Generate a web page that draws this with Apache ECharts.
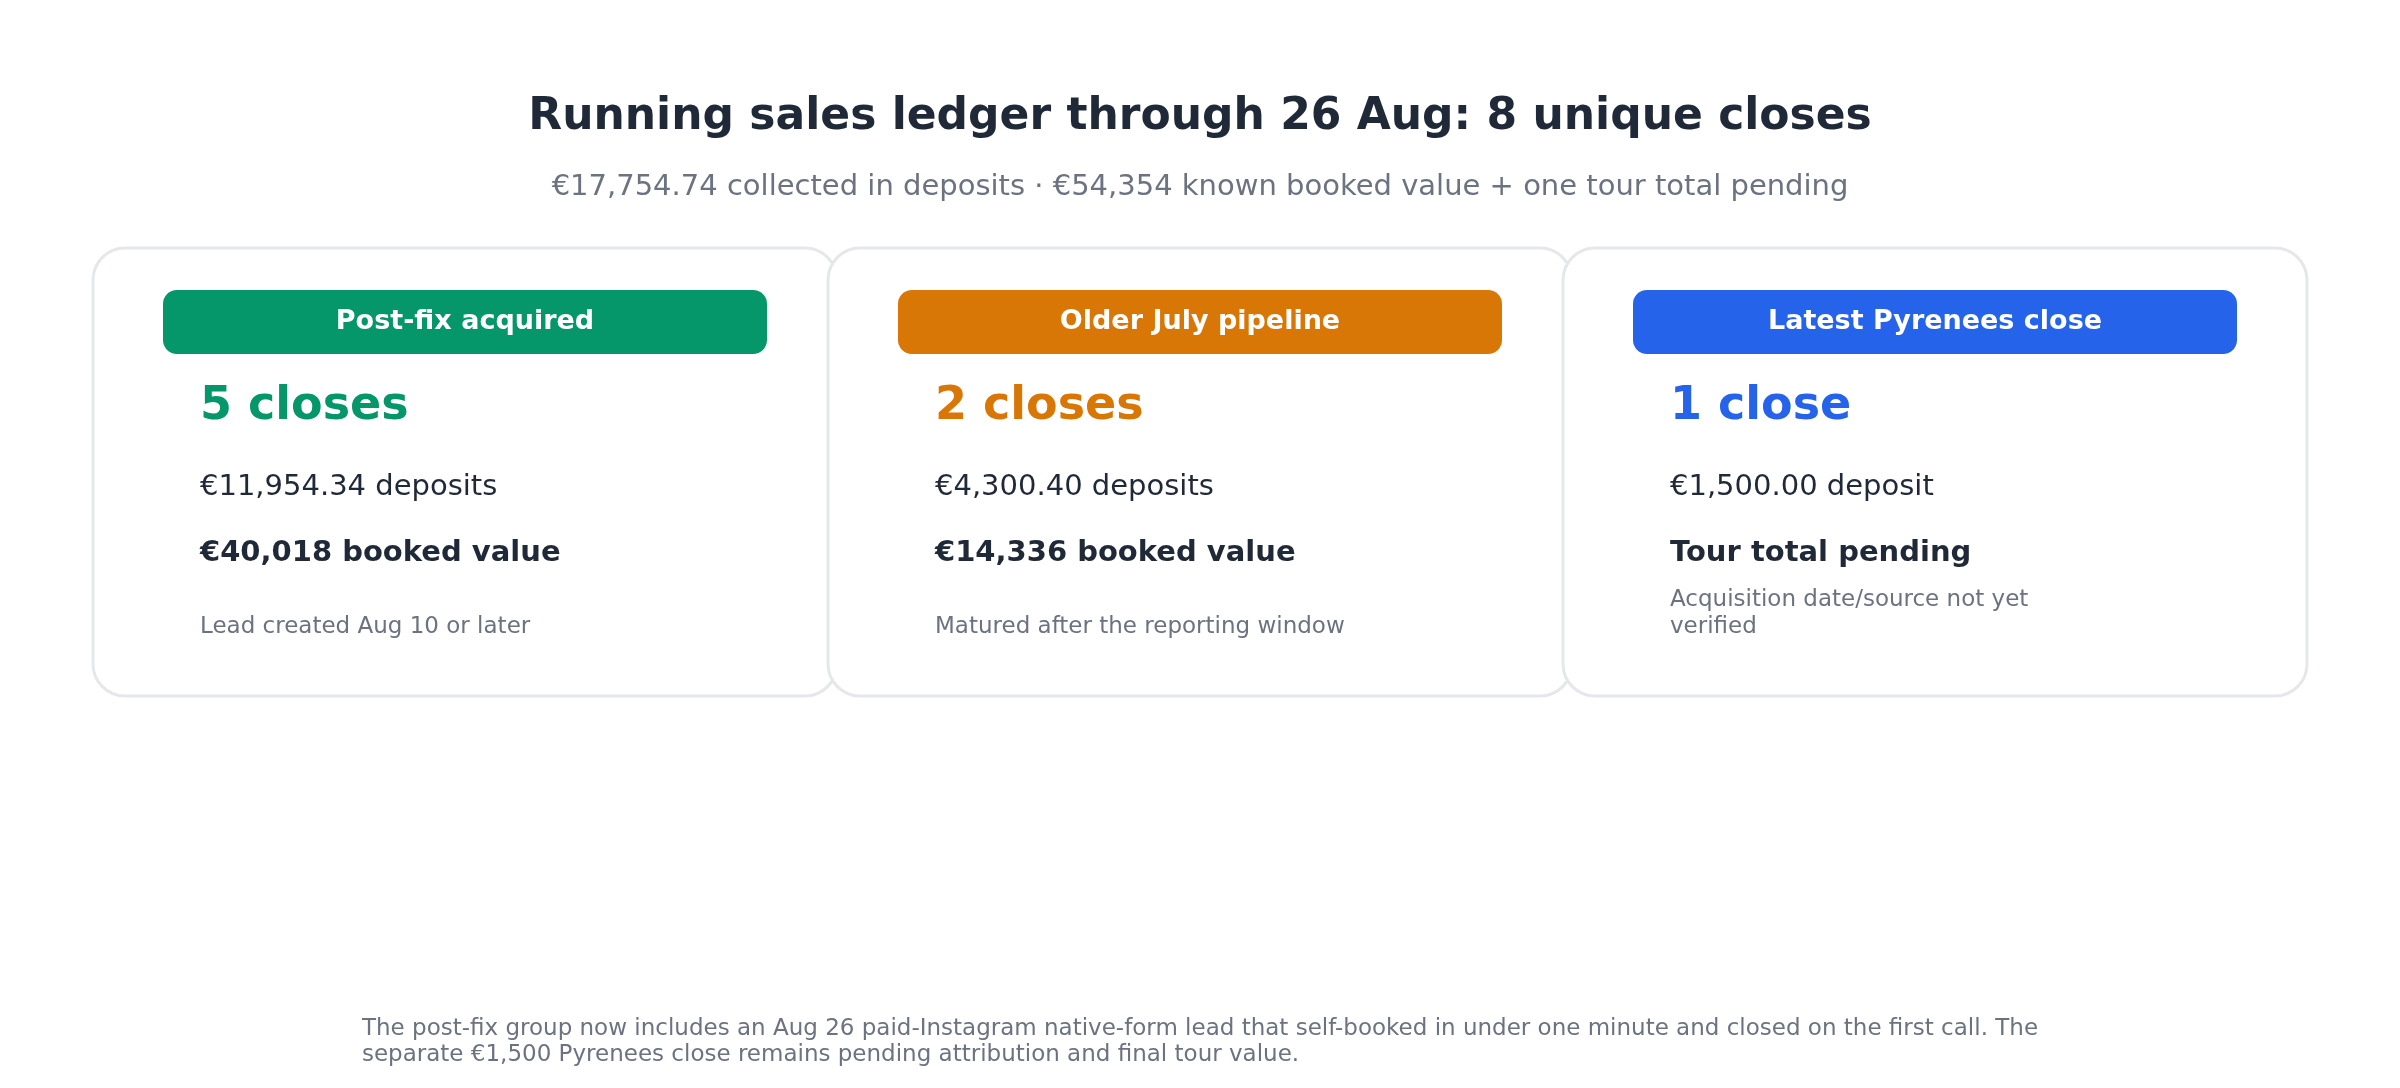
<!DOCTYPE html>
<html><head><meta charset="utf-8">
<script src="https://cdn.jsdelivr.net/npm/echarts@6/dist/echarts.min.js"></script>
<style>html,body{margin:0;padding:0;background:#fff}#c{width:2400px;height:1088px}</style>
</head><body><div id="c"></div>
<script>
const titleText = 'Running sales ledger through 26 Aug: 8 unique closes';
const subtitleText = '€17,754.74 collected in deposits · €54,354 known booked value + one tour total pending';
const badges = ['Post-fix acquired', 'Older July pipeline', 'Latest Pyrenees close'];
const closes = ['5 closes', '2 closes', '1 close'];
const deposits = ['€11,954.34 deposits', '€4,300.40 deposits', '€1,500.00 deposit'];
const booked = ['€40,018 booked value', '€14,336 booked value', 'Tour total pending'];
const notes = ['Lead created Aug 10 or later', 'Matured after the reporting window', 'Acquisition date/source not yet\nverified'];
const colors = ['#059669', '#d97706', '#2563eb'];
const footer = 'The post-fix group now includes an Aug 26 paid-Instagram native-form lead that self-booked in under one minute and closed on the first call. The\nseparate €1,500 Pyrenees close remains pending attribution and final tour value.';

const font = '"DejaVu Sans", "Noto Sans", sans-serif';
const chart = echarts.init(document.getElementById('c'));
const g = [];
g.push({type:'text', left:'center', top:96, style:{text:titleText, font:'bold 44px '+font, fill:'#1f2937'}});
g.push({type:'text', left:'center', top:173, style:{text:subtitleText, font:'29px '+font, fill:'#6b7280'}});
const cardX = [93, 828, 1563];
badges.forEach((b, i) => {
  const x = cardX[i];
  g.push({type:'rect', shape:{x:x, y:248, width:744, height:448, r:32}, style:{fill:'#fff', stroke:'#e5e7eb', lineWidth:3}});
  g.push({type:'rect', shape:{x:x+70, y:290, width:604, height:64, r:14}, style:{fill:colors[i]}});
  g.push({type:'text', x:x+372, y:322, style:{text:b, font:'bold 27px '+font, fill:'#fff', align:'center', verticalAlign:'middle'}});
  g.push({type:'text', x:x+107, y:407, style:{text:closes[i], font:'bold 46px '+font, fill:colors[i], verticalAlign:'middle'}});
  g.push({type:'text', x:x+107, y:487, style:{text:deposits[i], font:'29px '+font, fill:'#1f2937', verticalAlign:'middle'}});
  g.push({type:'text', x:x+107, y:553, style:{text:booked[i], font:'bold 29px '+font, fill:'#1f2937', verticalAlign:'middle'}});
  const two = notes[i].includes('\n');
  g.push({type:'text', x:x+107, y:two?587:614, style:{text:notes[i], font:'23px '+font, fill:'#6b7280', lineHeight:27}});
});
g.push({type:'text', left:'center', top:1016, style:{text:footer, font:'23px '+font, fill:'#6b7280', align:'center', lineHeight:26}});
chart.setOption({graphic:g});
</script></body></html>
